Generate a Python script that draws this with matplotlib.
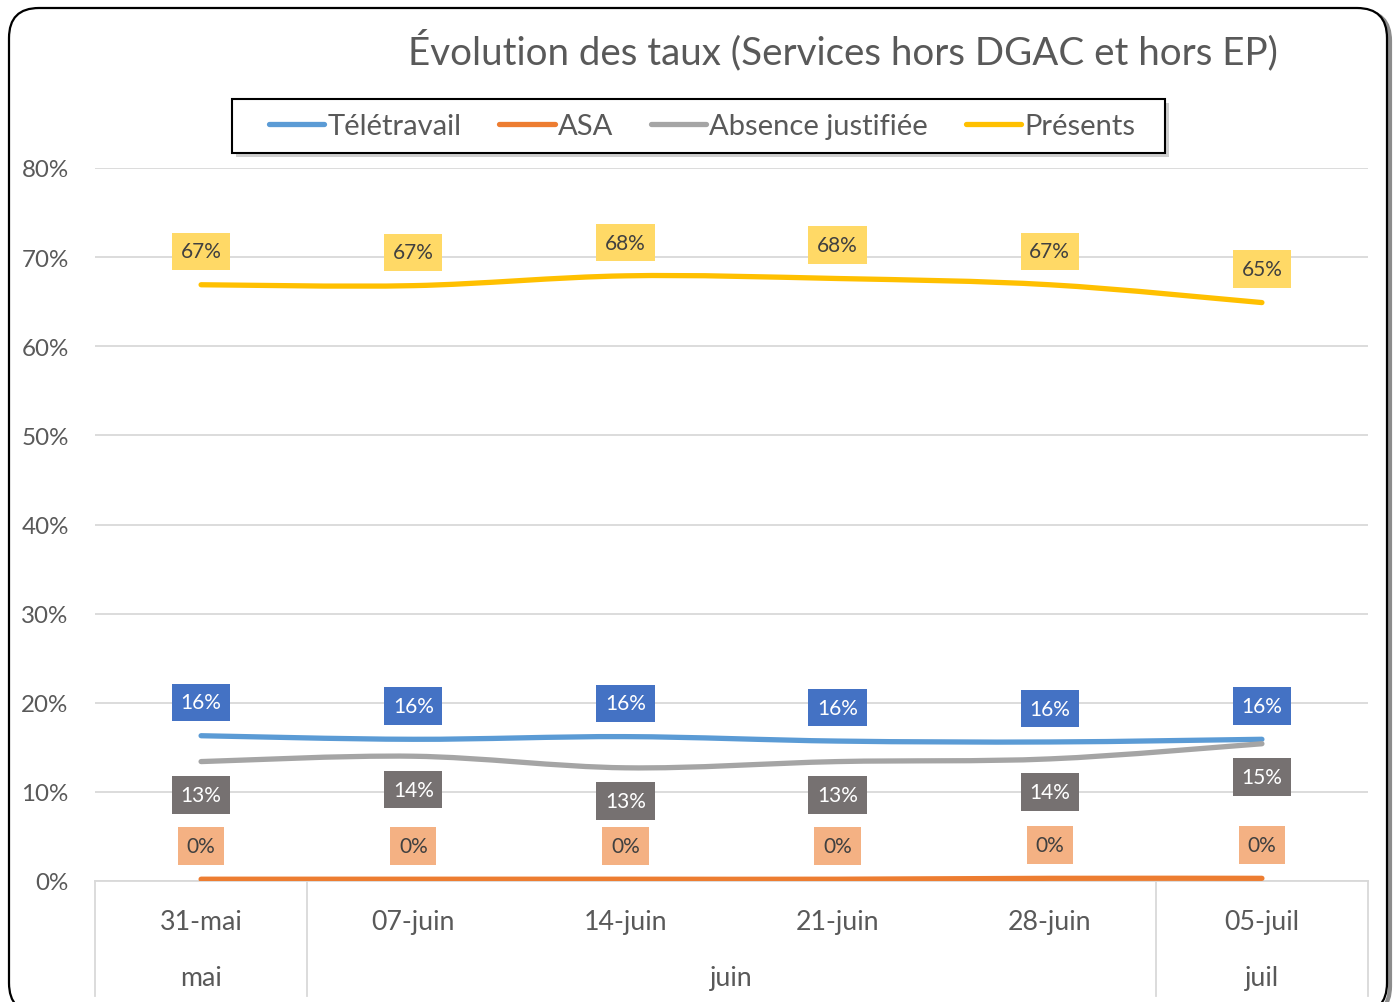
import matplotlib.pyplot as plt
import numpy as np
from matplotlib.path import Path
from matplotlib.patches import PathPatch, FancyBboxPatch, Rectangle
from matplotlib.transforms import blended_transform_factory

dates = ["31-mai", "07-juin", "14-juin", "21-juin", "28-juin", "05-juil"]
months = ["mai", "juin", "juil"]
month_spans = [(0, 0), (1, 4), (5, 5)]

teletravail = [16.3, 15.9, 16.2, 15.7, 15.6, 15.9]
asa = [0.2, 0.2, 0.2, 0.2, 0.3, 0.3]
absence = [13.4, 14.0, 12.7, 13.4, 13.7, 15.4]
presents = [66.9, 66.8, 67.9, 67.6, 66.9, 64.9]

y_ticks = [0, 10, 20, 30, 40, 50, 60, 70, 80]

FONT = "Lato"
plt.rcParams["font.family"] = [FONT, "DejaVu Sans"]
TXT = "#595959"
W, H = 1399, 1003


def smooth_path(xs, ys):
    # excel-like smoothed line: bezier through every point
    pts = np.column_stack([xs, ys]).astype(float)
    n = len(pts)
    verts = [pts[0]]
    codes = [Path.MOVETO]
    for i in range(n - 1):
        p0 = pts[i - 1] if i > 0 else pts[i]
        p1 = pts[i]
        p2 = pts[i + 1]
        p3 = pts[i + 2] if i + 2 < n else pts[i + 1]
        c1 = p1 + (p2 - p0) / 6.0
        c2 = p2 - (p3 - p1) / 6.0
        verts += [c1, c2, p2]
        codes += [Path.CURVE4] * 3
    return Path(verts, codes)


fig = plt.figure(figsize=(W / 100, H / 100), dpi=100)

# background frame in pixel coordinates
bg = fig.add_axes([0, 0, 1, 1], zorder=0)
bg.set_xlim(0, W)
bg.set_ylim(H, 0)
bg.axis("off")
shadow = FancyBboxPatch((12, 12), 1378, 1005, boxstyle="round,pad=0,rounding_size=30",
                        fc="none", ec="#8c8c8c", lw=3)
frame = FancyBboxPatch((9, 9), 1378, 1005, boxstyle="round,pad=0,rounding_size=30",
                       fc="white", ec="black", lw=1.6)
bg.add_patch(shadow)
bg.add_patch(frame)

left, right = 95 / W, 1368 / W
bottom, top = 1 - 882 / H, 1 - 169 / H
ax = fig.add_axes([left, bottom, right - left, top - bottom], zorder=1)
ax.set_facecolor("none")

x = np.arange(len(dates))
series = [
    ("Télétravail", teletravail, "#5B9BD5", "#4472C4", "white", 1),
    ("ASA", asa, "#ED7D31", "#F4B183", "#404040", 1),
    ("Absence justifiée", absence, "#A5A5A5", "#767171", "white", -1),
    ("Présents", presents, "#FFC000", "#FFD966", "#404040", 1),
]

for name, vals, col, box_col, txt_col, side in series:
    ax.add_patch(PathPatch(smooth_path(x, vals), fc="none", ec=col, lw=3.8,
                           capstyle="round", zorder=3))
    ax.plot([], [], color=col, lw=3.8, solid_capstyle="round", label=name)
    for xi, v in zip(x, vals):
        ax.annotate(f"{v:.0f}%", (xi, v), xytext=(0, 24 * side), textcoords="offset points",
                    ha="center", va="center", fontsize=15, color=txt_col, zorder=4,
                    bbox=dict(boxstyle="square,pad=0.42", fc=box_col, ec="none"))

ax.set_xlim(-0.5, len(dates) - 0.5)
ax.set_ylim(0, 80)
ax.set_yticks(y_ticks)
ax.set_yticklabels([f"{t}%" for t in y_ticks], fontsize=17.4, color=TXT)
ax.grid(axis="y", color="#D9D9D9", lw=1.3)
ax.set_axisbelow(True)
ax.tick_params(axis="y", length=0, pad=19)
for s in ["left", "right", "top"]:
    ax.spines[s].set_visible(False)
ax.spines["bottom"].set_color("#D9D9D9")
ax.spines["bottom"].set_linewidth(1.3)

# two level category axis
ax.set_xticks([])
tr = blended_transform_factory(ax.transData, ax.transAxes)
axh = 882 - 169
for xi, d in zip(x, dates):
    ax.text(xi, -41 / axh, d, transform=tr, ha="center", va="center",
            fontsize=19.3, color=TXT)
for m, (a, b) in zip(months, month_spans):
    ax.text((a + b) / 2, -97 / axh, m, transform=tr, ha="center", va="center",
            fontsize=19.3, color=TXT)
for sep in [-0.5, 0.5, 4.5, 5.5]:
    ax.plot([sep, sep], [0, -115 / axh], transform=tr, color="#D9D9D9", lw=1.3,
            clip_on=False)

fig.text(843 / W, 1 - 50 / H, "Évolution des taux (Services hors DGAC et hors EP)",
         ha="center", va="center", fontsize=27.7, color=TXT)

# legend box drawn by hand so the side padding matches
bg.add_patch(Rectangle((236, 104), 933, 54, fc="#b0b0b0", ec="none", alpha=0.6, zorder=2))
bg.add_patch(Rectangle((232, 100), 933, 54, fc="white", ec="black", lw=1.5, zorder=3))
leg = ax.legend(loc="center", bbox_to_anchor=(702 / W, 1 - 127 / H), bbox_transform=fig.transFigure,
                ncol=4, frameon=False, fontsize=21,
                handlelength=1.9, handletextpad=0.1, columnspacing=1.3, borderpad=0.4)
for t in leg.get_texts():
    t.set_color(TXT)

fig.savefig("out.png", dpi=100)
